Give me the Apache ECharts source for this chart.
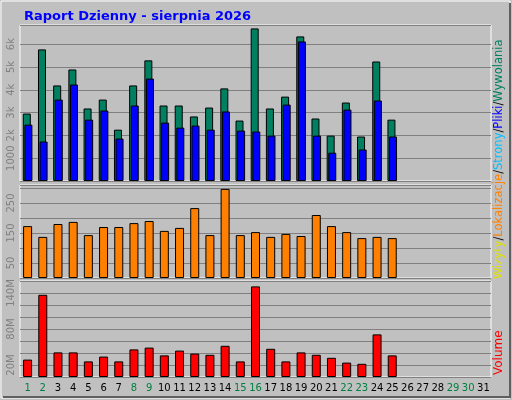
<!DOCTYPE html><html><head><meta charset="utf-8"><script src="https://cdn.jsdelivr.net/npm/echarts@6/dist/echarts.min.js"></script>
<style>body{margin:0;background:#c0c0c0}#c{width:512px;height:400px}</style></head><body><div id="c"></div><script>
var days=[];for(var i=1;i<=31;i++)days.push(String(i));
var weekend=[1,2,8,9,15,16,22,23,29,30];
var hits=[2957,5770,4190,4890,3180,3570,2250,4190,5290,3310,3310,2830,3220,4060,2650,6690,3180,3700,6340,2740,1990,3440,1950,5240,2690];
var files=[2470,1730,3570,4230,2690,3090,1860,3310,4490,2560,2340,2430,2250,3050,2210,2170,1990,3350,6120,1990,1240,3130,1380,3530,1950];
var visits=[173,137,180,187,143,170,170,183,190,157,167,233,143,297,143,153,137,147,140,210,173,153,133,137,133];
var volumeM=[29,137,41,41,26,34,26,46,49,36,44,39,37,52,26,151,47,26,41,37,32,24,22,71,36];
var ch=echarts.init(document.getElementById('c'));
var F='DejaVu Sans';
function xa(idx,show){return {type:'category',gridIndex:idx,data:days,axisTick:{show:false},axisLine:{show:false},
 axisLabel:{show:show,interval:0,hideOverlap:false,fontFamily:F,fontSize:10,margin:6,color:function(v){return weekend.indexOf(+v)>=0?'#008040':'#000'}}};}
function ya(idx,max,iv,fmt){return {gridIndex:idx,min:0,max:max,interval:iv,axisLine:{show:false},axisTick:{show:false},
 splitLine:{lineStyle:{color:'#808080',width:1}},axisLabel:{rotate:90,fontFamily:F,fontSize:10,color:'#808080',margin:4,formatter:fmt}};}
var bs={borderColor:'#000',borderWidth:1};
ch.setOption({animation:false,backgroundColor:'#c0c0c0',
 title:{text:'Raport Dzienny - sierpnia 2026',left:19,top:5,textStyle:{fontFamily:F,fontSize:13,fontWeight:'bold',color:'#0000ff'}},
 grid:[{left:20,right:21,top:25,height:156,show:true,borderColor:'#fff',backgroundColor:'#c0c0c0'},
       {left:20,right:21,top:185,height:93,show:true,borderColor:'#fff'},
       {left:20,right:21,top:281,height:96,show:true,borderColor:'#fff'}],
 xAxis:[xa(0,false),xa(1,false),xa(2,true)],
 yAxis:[ya(0,6840,1000,function(v){return v==0||v>6000?'':v==1000?'1000':(v/1000)+'k'}),
        ya(1,310,50,function(v){return (v==50||v==150||v==250)?v:''}),
        ya(2,160,20,function(v){return (v-20)%60==0&&v>0?v+'M':''})],
 series:[{type:'bar',xAxisIndex:0,yAxisIndex:0,data:hits,barWidth:8,barGap:'-80%',itemStyle:Object.assign({color:'#008060'},bs)},
         {type:'bar',xAxisIndex:0,yAxisIndex:0,data:files,barWidth:8,itemStyle:Object.assign({color:'#0000ff'},bs)},
         {type:'bar',xAxisIndex:1,yAxisIndex:1,data:visits,barWidth:9,itemStyle:Object.assign({color:'#ff8000'},bs)},
         {type:'bar',xAxisIndex:2,yAxisIndex:2,data:volumeM,barWidth:9,itemStyle:Object.assign({color:'#ff0000'},bs)}],
 graphic:[
  {type:'rect',shape:{x:1,y:1,width:509,height:397},style:{fill:'none',stroke:'#fff',lineWidth:1},z:-1},
  {type:'polyline',shape:{points:[[3,397],[510,397],[510,3]]},style:{stroke:'#606060',lineWidth:2,fill:'none'}},
  {type:'text',x:493,y:279,rotation:Math.PI/2,style:{fontFamily:F,fontSize:11.5,text:'{y|Wizyty}{k|/}{o|Lokalizacje}{k|/}{c|Strony}{k|/}{b|Pliki}{k|/}{g|Wywolania}',
   rich:{y:{fill:'#e0e000'},k:{fill:'#000'},o:{fill:'#ff8000'},c:{fill:'#00c0ff'},b:{fill:'#0000ff'},g:{fill:'#008060'}}}},
  {type:'text',x:493,y:375,rotation:Math.PI/2,style:{fontFamily:F,fontSize:12,text:'Volume',fill:'#ff0000'}}
 ]});
</script></body></html>
